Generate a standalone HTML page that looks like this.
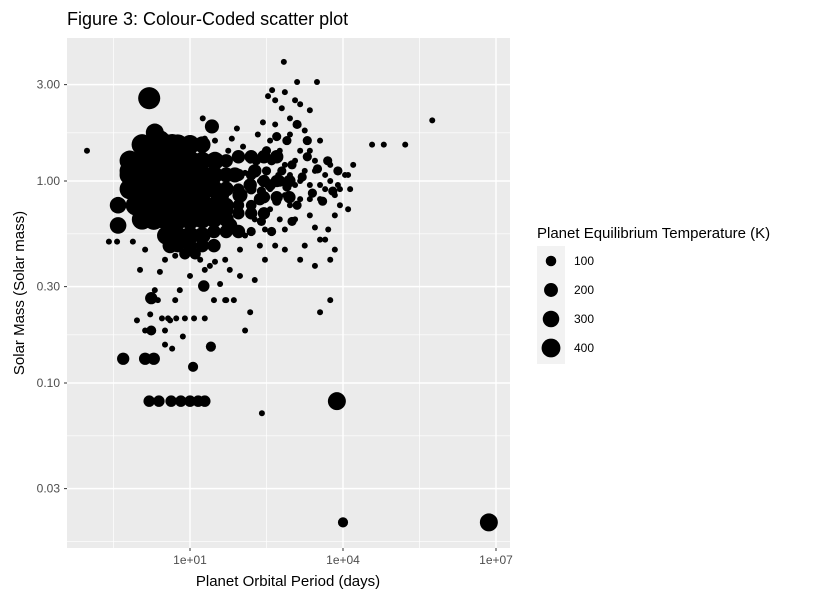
<!DOCTYPE html>
<html><head><meta charset="utf-8"><style>
body{margin:0;background:#fff;}
svg text{font-family:"Liberation Sans",sans-serif;}
</style></head><body>
<svg id="chart" width="840" height="600" xmlns="http://www.w3.org/2000/svg">
<rect width="840" height="600" fill="#fff"/>
<text x="67" y="25" font-size="18" fill="#000">Figure 3: Colour-Coded scatter plot</text>
<rect x="67" y="38" width="443" height="510" fill="#EBEBEB"/>
<g id="grid"></g>
<g id="points"></g>
<g id="axes"></g>
<text x="288" y="586" font-size="15" text-anchor="middle">Planet Orbital Period (days)</text>
<text transform="translate(24,293) rotate(-90)" font-size="15" text-anchor="middle">Solar Mass (Solar mass)</text>
<g>
<text x="537" y="238" font-size="15">Planet Equilibrium Temperature (K)</text>
<rect x="537" y="246" width="28" height="118" fill="#F2F2F2"/>
<g id="legend"></g>
</g>
</svg>
<script>
// log10 of orbital period (days) – planets with low temperature
const logPeriod = [-1.02,-0.59,-0.43,-0.12,2.84,2.61,2.53,2.67,3.10,3.49,3.16,2.80,2.96,2.43,2.33,2.04,2.18,2.57,2.76,2.96,3.25,3.35,3.06,3.55,3.45,3.65,3.75,3.90,4.04,3.94,4.14,3.84,3.55,3.16,3.35,2.96,2.76,2.57,2.47,2.27,2.08,2.86,3.16,3.55,3.75,3.45,3.25,2.67,2.47,1.98,1.78,1.69,1.49,1.20,1.00,0.80,0.71,0.61,0.51,0.37,0.31,0.22,0.45,0.57,0.73,0.90,1.08,1.29,0.12,-0.04,0.02,0.12,0.41,0.51,0.71,1.29,1.39,1.59,1.69,1.98,2.08,2.18,1.86,3.75,3.55,3.65,4.10,3.71,3.84,2.41,0.86,0.65,0.51,1.47,1.71,2.27,2.73,2.96,3.16,3.35,3.65,3.84,4.10,4.57,4.80,5.22,5.75,4.20,1.82,1.92,2.24,2.08,1.75,1.49,1.29,1.25,2.37,2.57,2.86,3.06,3.25,3.45,3.16,2.86,2.67,2.47,3.55,3.75,3.94,3.35,3.06,3.45,2.86,2.37,3.35,3.06,2.86];
// log10 of solar mass
const logMass = [0.15,-0.30,-0.30,-0.30,0.59,0.45,0.42,0.40,0.49,0.49,0.38,0.36,0.31,0.29,0.23,0.17,0.10,0.20,0.15,0.23,0.25,0.15,0.10,0.20,0.05,0.03,0.00,-0.02,0.03,-0.12,-0.04,-0.17,-0.09,-0.09,-0.17,-0.12,-0.19,-0.14,-0.24,-0.19,-0.27,-0.34,-0.39,-0.29,-0.39,-0.42,-0.32,-0.32,-0.39,-0.34,-0.44,-0.39,-0.40,-0.39,-0.47,-0.54,-0.59,-0.69,-0.74,-0.59,-0.54,-0.66,-0.68,-0.68,-0.68,-0.68,-0.68,-0.68,-0.74,-0.69,-0.44,-0.34,-0.45,-0.39,-0.37,-0.44,-0.42,-0.51,-0.59,-0.47,-0.74,-0.65,-0.59,-0.59,-0.65,-0.29,-0.14,-0.24,-0.34,-1.15,-0.77,-0.83,-0.81,-0.59,-0.59,-0.49,0.03,0.03,0.00,-0.02,-0.04,-0.07,0.03,0.18,0.18,0.18,0.30,0.08,0.21,0.26,0.12,0.04,0.15,0.20,0.21,0.31,0.00,-0.04,-0.07,-0.02,0.05,0.10,0.15,0.08,0.28,0.15,-0.02,0.08,-0.04,-0.09,-0.19,-0.23,-0.24,-0.32,0.35,0.40,0.44];
// planets drawn with temperature-scaled size
const bigLogPeriod = [
 0.06,0.29,0.53,0.76,1.00,1.24,
 -0.18,0.06,0.29,0.53,0.76,1.00,1.24,1.47,1.71,
 -0.18,0.06,0.29,0.53,0.76,1.00,1.24,1.47,1.71,1.95,2.20,
 -0.18,0.06,0.29,0.53,0.76,1.00,1.24,1.47,1.71,1.95,2.20,
 -0.06,0.06,0.29,0.53,0.76,1.00,1.24,1.47,1.71,1.95,2.20,
 0.06,0.29,0.53,0.76,1.00,1.24,1.47,1.71,
 0.53,0.76,1.00,1.24,
 1.95,2.20,2.45,2.70, 2.45,2.70,2.95, 2.45,2.70,2.95, 1.95,2.20,2.45, 1.47,1.71,1.95, 0.76,1.00,1.24,1.47, 0.90,1.10,
 2.3,2.4,2.5,2.6,2.7,2.8,2.9,3.0,3.1,3.2,3.3,3.4,3.5,3.6,3.7,2.4,2.6,2.2,2.9,3.1,2.7,3.3,2.5,3.0,3.8,3.9,
 0.02,0.31,0.65,0.51,0.12,-0.08,0.80,1.10,1.39,0.90,0.51,1.20,1.59,0.71,1.00,1.29,1.69,1.98,2.18,1.88,2.27,1.78,0.61,1.00,2.37,2.57,2.76,0.12,-0.18,1.49,0.41,0.22,1.20,0.80,0.41,0.61,0.80,
 0.20,0.31,1.43,-0.41,-0.41,-0.31,0.12,0.29,0.24,0.24,1.06,1.41,1.27,3.88,6.86,4.00,0.20,0.39,0.63,0.82,1.00,1.16,1.29];
const bigLogMass = [
 0.18,0.18,0.18,0.18,0.18,0.18,
 0.10,0.10,0.10,0.10,0.10,0.10,0.10,0.10,0.10,
 0.03,0.03,0.03,0.03,0.03,0.03,0.03,0.03,0.03,0.03,0.03,
 -0.04,-0.04,-0.04,-0.04,-0.04,-0.04,-0.04,-0.04,-0.04,-0.04,-0.04,
 -0.12,-0.12,-0.12,-0.12,-0.12,-0.12,-0.12,-0.12,-0.12,-0.12,-0.12,
 -0.19,-0.19,-0.19,-0.19,-0.19,-0.19,-0.19,-0.19,
 -0.27,-0.27,-0.27,-0.27,
 0.12,0.12,0.12,0.12, 0.00,0.00,0.00, -0.08,-0.08,-0.08, -0.16,-0.16,-0.16, -0.25,-0.25,-0.25, -0.32,-0.32,-0.32,-0.32, -0.36,-0.36,
 0.10,-0.05,0.05,0.10,-0.10,0.05,-0.03,0.08,-0.12,0.02,0.12,-0.06,0.06,-0.10,0.10,-0.20,-0.25,-0.25,0.20,0.28,0.22,0.20,0.15,-0.20,-0.05,0.05,
 0.08,0.15,0.18,0.03,-0.02,0.00,0.10,0.05,0.00,-0.07,-0.09,-0.09,-0.07,-0.17,-0.19,-0.17,-0.14,-0.07,-0.02,0.03,0.05,-0.22,-0.24,-0.27,-0.09,-0.02,0.00,-0.09,0.05,0.10,0.10,-0.14,-0.02,0.00,0.20,-0.32,-0.29,
 0.41,0.24,0.27,-0.12,-0.22,-0.88,-0.88,-0.88,-0.58,-0.74,-0.92,-0.82,-0.52,-1.09,-1.69,-1.69,-1.09,-1.09,-1.09,-1.09,-1.09,-1.09,-1.09];
const bigTemp = [
 420,420,420,400,350,250,
 400,420,420,420,420,400,300,250,150,
 400,420,420,420,420,400,350,300,200,120,80,
 400,420,420,420,420,400,350,300,200,100,80,
 400,420,420,420,420,400,300,250,200,100,80,
 400,420,420,400,380,300,250,200,
 300,300,300,250,
 150,150,150,150, 120,120,120, 120,120,120, 120,120,120, 150,150,150, 150,150,150,150, 100,100,
 50,50,50,50,50,50,50,50,50,50,50,50,50,50,50,50,50,50,50,50,50,50,50,50,50,50,
 450,450,430,450,450,420,420,400,380,400,420,380,300,380,350,300,250,200,150,200,150,200,300,250,120,100,100,420,400,300,450,400,400,450,400,200,250,
 470,300,170,250,250,120,120,120,120,67,70,70,100,300,300,70,100,100,100,100,100,100,100];
const xTicks = [1,4,7];
const xTickLabels = ["1e+01","1e+04","1e+07"];
const xMinor = [-0.5,2.5,5.5];
const yTicks = [0.03,0.1,0.3,1,3];
const yTickLabels = ["0.03","0.10","0.30","1.00","3.00"];
const legendTemps = [100,200,300,400];

const NS="http://www.w3.org/2000/svg";
const X = lp => 190 + (lp-1)*51;
const Y = lm => 181 - lm*202;
const R = t => Math.sqrt(9 + t*0.24);
function mk(tag, attrs, parent){const e=document.createElementNS(NS,tag);for(const k in attrs)e.setAttribute(k,attrs[k]);parent.appendChild(e);return e;}
const grid=document.getElementById('grid'), pts=document.getElementById('points'), axes=document.getElementById('axes'), leg=document.getElementById('legend');
const yl = yTicks.map(v=>Math.log10(v));
const yMinor=[yl[0]-(yl[1]-yl[0])/2];
for(let i=0;i<yl.length-1;i++) yMinor.push((yl[i]+yl[i+1])/2);
yMinor.forEach(v=>{const l=mk('line',{x1:67,x2:510,y1:Y(v),y2:Y(v),stroke:'#fff','stroke-width':0.7},grid);

});
xMinor.forEach(v=>{const l=mk('line',{x1:X(v),x2:X(v),y1:38,y2:548,stroke:'#fff','stroke-width':0.7},grid);

});
yl.forEach((v,i)=>{const l=mk('line',{x1:67,x2:510,y1:Y(v),y2:Y(v),stroke:'#fff','stroke-width':1.4},grid);


const t=mk('line',{x1:64,x2:67,y1:Y(v),y2:Y(v),stroke:'#333','stroke-width':1},axes);


const tx=mk('text',{x:60,y:Y(v)+4,'font-size':12,'text-anchor':'end',fill:'#4D4D4D'},axes);tx.textContent=yTickLabels[i];

});
xTicks.forEach((v,i)=>{const l=mk('line',{x1:X(v),x2:X(v),y1:38,y2:548,stroke:'#fff','stroke-width':1.4},grid);


const t=mk('line',{x1:X(v),x2:X(v),y1:548,y2:551,stroke:'#333','stroke-width':1},axes);


const tx=mk('text',{x:X(v),y:564,'font-size':12,'text-anchor':'middle',fill:'#4D4D4D'},axes);tx.textContent=xTickLabels[i];

});
bigLogPeriod.forEach((p,i)=>{const c=mk('circle',{cx:X(p),cy:Y(bigLogMass[i]),r:R(bigTemp[i]),fill:'#000'},pts);

});
logPeriod.forEach((p,i)=>{const c=mk('circle',{cx:X(p),cy:Y(logMass[i]),r:R(0),fill:'#000'},pts);

});
legendTemps.forEach((t,i)=>{const cy=261+i*29;
const c=mk('circle',{cx:551,cy:cy,r:R(t)*0.92,fill:'#000'},leg);


const tx=mk('text',{x:574,y:cy+4,'font-size':12,fill:'#000'},leg);tx.textContent=t;

});
</script>
</body></html>
